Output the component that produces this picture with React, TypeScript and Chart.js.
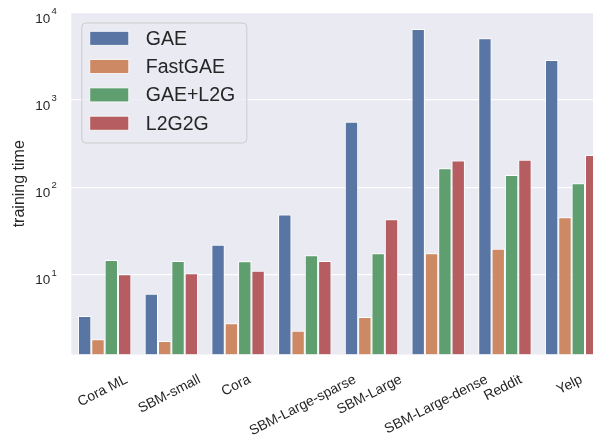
import React, { useEffect, useRef } from "react";
import { Chart, registerables } from "chart.js";

Chart.register(...registerables);

const categories = [
  "Cora ML",
  "SBM-small",
  "Cora",
  "SBM-Large-sparse",
  "SBM-Large",
  "SBM-Large-dense",
  "Reddit",
  "Yelp",
];
const seriesNames = ["GAE", "FastGAE", "GAE+L2G", "L2G2G"];
const gaeValues = [3.32, 5.98, 21.9, 48.5, 563, 6540, 5120, 2880];
const fastGaeValues = [1.8, 1.71, 2.75, 2.25, 3.23, 17.4, 19.7, 45.2];
const gaeL2gValues = [14.6, 14.2, 14.1, 16.5, 17.4, 165, 138, 111];
const l2g2gValues = [10.0, 10.3, 11.0, 14.2, 42.8, 203, 206, 235];
const seriesColors = ["#5975a4", "#cc8963", "#5f9e6e", "#b55d60"];
const yTickValues = [10, 100, 1000, 10000];
const yTickBase = "10";
const yTickExponents = ["1", "2", "3", "4"];
const yAxisTitle = "training time";

const FONT = '"Liberation Sans", Arial, sans-serif';
const TEXT = "#262626";
const ROT = (27 * Math.PI) / 180;

const bgPlugin = {
  id: "plotBg",
  beforeDraw(chart: any) {
    const { ctx, chartArea } = chart;
    ctx.save();
    ctx.fillStyle = "#eaeaf2";
    ctx.fillRect(chartArea.left, chartArea.top, chartArea.right - chartArea.left, chartArea.bottom - chartArea.top);
    ctx.restore();
  },
};

const labelsPlugin = {
  id: "customLabels",
  afterDraw(chart: any) {
    const { ctx, chartArea } = chart;
    const xs = chart.scales.x;
    const ys = chart.scales.y;
    ctx.save();
    ctx.fillStyle = TEXT;
    // x tick labels, matplotlib style: rotated, bbox centred on tick
    const fs = 14;
    ctx.font = `${fs}px ${FONT}`;
    const top = chartArea.bottom + 18;
    categories.forEach((label, i) => {
      const x = xs.getPixelForValue(i);
      const w = ctx.measureText(label).width;
      const h = fs;
      const bh = w * Math.sin(ROT) + h * Math.cos(ROT);
      ctx.save();
      ctx.translate(x - 2, top + bh / 2);
      ctx.rotate(-ROT);
      ctx.textAlign = "center";
      ctx.textBaseline = "middle";
      ctx.fillText(label, 0, 0);
      ctx.restore();
    });
    // y tick labels with superscript exponents
    yTickValues.forEach((v, i) => {
      const y = ys.getPixelForValue(v);
      const xr = chartArea.left - 21;
      ctx.font = `13.5px ${FONT}`;
      ctx.textAlign = "right";
      ctx.textBaseline = "alphabetic";
      ctx.fillText(yTickBase, xr, y + 9.6);
      ctx.font = `9.5px ${FONT}`;
      ctx.textAlign = "left";
      ctx.fillText(yTickExponents[i], xr + 1.2, y + 1.3);
    });
    // legend inside the plot
    const lx = chartArea.left + 10.5;
    const ly = chartArea.top + 10;
    const lw = 165;
    const lh = 120;
    ctx.beginPath();
    ctx.roundRect(lx, ly, lw, lh, 4);
    ctx.fillStyle = "rgba(234,234,242,0.8)";
    ctx.fill();
    ctx.strokeStyle = "#cccccc";
    ctx.lineWidth = 1;
    ctx.stroke();
    ctx.font = `19.5px ${FONT}`;
    ctx.textAlign = "left";
    ctx.textBaseline = "middle";
    chart.data.datasets.forEach((ds: any, i: number) => {
      const cy = ly + 15.3 + i * 28.3;
      ctx.fillStyle = ds.backgroundColor;
      ctx.fillRect(lx + 8, cy - 7, 39, 14);
      ctx.strokeStyle = "#ffffff";
      ctx.lineWidth = 0.8;
      ctx.strokeRect(lx + 8, cy - 7, 39, 14);
      ctx.fillStyle = TEXT;
      ctx.fillText(ds.label, lx + 64, cy + 1);
    });
    ctx.restore();
  },
};

export default function App() {
  const canvasRef = useRef<HTMLCanvasElement | null>(null);

  useEffect(() => {
    if (!canvasRef.current) return;
    const seriesValues = [gaeValues, fastGaeValues, gaeL2gValues, l2g2gValues];
    const chart = new Chart(canvasRef.current, {
      type: "bar",
      data: {
        labels: categories,
        datasets: seriesNames.map((name, i) => ({
          label: name,
          data: seriesValues[i],
          backgroundColor: seriesColors[i],
          borderColor: "#ffffff",
          borderWidth: 1,
          categoryPercentage: 0.8,
          barPercentage: 1.0,
        })),
      },
      options: {
        responsive: false,
        animation: false,
        devicePixelRatio: 1,
        layout: { padding: { left: 0, top: 13, right: 15, bottom: 0 } },
        plugins: { legend: { display: false }, tooltip: { enabled: false } },
        scales: {
          x: {
            type: "category",
            grid: { display: false },
            border: { display: false },
            ticks: { display: false },
            afterFit(scale: any) {
              scale.height = 90.5;
            },
          },
          y: {
            type: "logarithmic",
            min: 1.2,
            max: 10000,
            border: { display: false },
            grid: { color: "#ffffff", lineWidth: 1.3, drawTicks: false },
            ticks: { display: false },
            title: {
              display: true,
              text: yAxisTitle,
              color: TEXT,
              font: { family: FONT, size: 16 },
              padding: { top: 10, bottom: 0 },
            },
            afterBuildTicks(scale: any) {
              scale.ticks = yTickValues.map((v) => ({ value: v }));
            },
            afterFit(scale: any) {
              scale.width = 71.3;
            },
          },
        },
      },
      plugins: [bgPlugin, labelsPlugin],
    });
    return () => chart.destroy();
  }, []);

  return (
    <div
      style={{
        position: "fixed",
        left: 0,
        top: 0,
        width: 593,
        height: 445,
        overflow: "hidden",
        background: "#ffffff",
      }}
    >
      <canvas ref={canvasRef} width={620} height={445} style={{ display: "block" }} />
    </div>
  );
}
